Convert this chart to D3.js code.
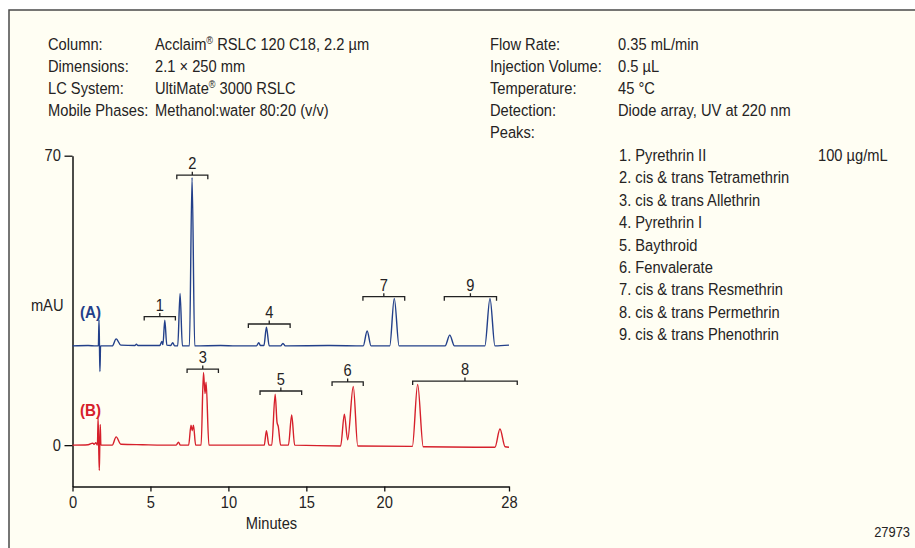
<!DOCTYPE html>
<html>
<head>
<meta charset="utf-8">
<script src="https://cdn.jsdelivr.net/npm/d3@7"></script>
<style>
  html, body { margin: 0; padding: 0; background: #ffffff; }
  svg { display: block; }
  text { font-family: "Liberation Sans", Arial, sans-serif; fill: #252323; }
</style>
</head>
<body>
<svg id="chart" width="915" height="548"></svg>
<script>
// ---------- data ----------
const headerLeftLabels = ["Column:", "Dimensions:", "LC System:", "Mobile Phases:"];
const headerLeftValues = [["Acclaim", "®", " RSLC 120 C18, 2.2 µm"], ["2.1 × 250 mm"], ["UltiMate", "®", " 3000 RSLC"], ["Methanol:water 80:20 (v/v)"]];
const headerRightLabels = ["Flow Rate:", "Injection Volume:", "Temperature:", "Detection:", "Peaks:"];
const headerRightValues = ["0.35 mL/min", "0.5 µL", "45 °C", "Diode array, UV at 220 nm", ""];
const peakNames = ["1. Pyrethrin II", "2. cis & trans Tetramethrin", "3. cis & trans Allethrin", "4. Pyrethrin I",
  "5. Baythroid", "6. Fenvalerate", "7. cis & trans Resmethrin", "8. cis & trans Permethrin", "9. cis & trans Phenothrin"];
const concentration = "100 µg/mL";

const xTicks = [0, 5, 10, 15, 20, 28];
const yTicks = [0, 70];
const offsetA = 24; // vertical offset of trace A (mAU)

// [minutes, mAU] relative to each trace's own baseline
const traceA = [[0,0],[1.0,0.1],[1.5,0],[1.66,0],[1.70,6.3],[1.73,0],[1.76,-6.2],[1.80,0],[2.55,0],[2.8,1.7],[3.1,0.2],
  [4.0,0.1],[4.1,0.4],[4.2,0.1],[5.6,0.1],[5.73,1.1],[5.8,0.3],[5.92,6.2],[6.05,0.2],[6.3,0.1],[6.43,0.8],[6.55,0],
  [6.75,0],[6.9,12.7],[7.05,0],[7.5,0],[7.67,40.7],[7.84,0],[9.5,0.1],[10.5,0],[11.8,0],[11.95,0.8],[12.05,0.1],[12.28,0.1],[12.44,4.5],
  [12.62,0],[13.35,0],[13.5,0.6],[13.65,0],[16.5,0.1],[18.65,0],[18.9,3.6],[19.15,0],[20.35,0],[20.64,11.5],[20.95,0],
  [23.9,0],[24.2,2.6],[24.5,0],[26.45,0],[26.78,11.5],[27.1,0],[28,0.2]];
const traceB = [[0,0],[1.0,0.1],[1.3,0.5],[1.4,0.2],[1.5,0.6],[1.6,0],[1.64,6.5],[1.68,0],[1.72,-6.1],[1.75,0],
  [1.78,5],[1.82,0],[2.55,0],[2.8,2.0],[3.1,0.2],[4.5,0.1],[6.65,0],[6.8,0.7],[6.92,0],[7.45,0],[7.6,4.8],[7.68,3.5],
  [7.76,4.8],[7.9,0],[8.25,0],[8.4,17.6],[8.5,12.5],[8.57,15.2],[8.75,0],[12.3,0],[12.44,3.5],[12.6,0],[12.78,0],
  [13.0,12.3],[13.12,5.5],[13.2,4.5],[13.35,0],[13.85,0],[14.06,7.3],[14.25,0],[17.2,-0.2],[17.44,7.5],[17.65,1.3],
  [18.01,14.2],[18.3,-0.2],[21.8,-0.3],[22.14,14.7],[22.5,-0.4],[27.1,-0.5],[27.42,3.9],[27.75,-0.4],[28,-0.5]];

// peak-group brackets: label, start/end (minutes), level (absolute mAU)
const bracketLabels = ["1", "2", "4", "7", "9", "3", "5", "6", "8"];
const bracketStart  = [4.6, 6.69, 11.28, 18.63, 23.85, 7.35, 12.03, 16.65, 21.82];
const bracketEnd    = [6.6, 8.68, 13.96, 21.31, 27.2, 9.36, 14.7, 18.65, 28.53];
const bracketLevel  = [31.1, 65.3, 29.3, 35.9, 35.9, 18.4, 13.1, 15.3, 15.5];

// ---------- drawing ----------
const svg = d3.select("#chart");
const blue = "#23408a";
const red = "#d6202b";
const SX = 0.89;   // horizontal condensing of the text face
const fs = 16.5;

function addText(g, px, py, parts, anchor = "start", size = fs) {
  const t = g.append("text")
    .attr("transform", `translate(${px},${py}) scale(${SX},1)`)
    .attr("text-anchor", anchor).attr("font-size", size);
  if (typeof parts === "string") { t.text(parts); return t; }
  parts.forEach((p, k) => {
    if (p === "®") t.append("tspan").attr("font-size", size * 0.62).attr("dy", -size * 0.35).text(p);
    else {
      const s = t.append("tspan").text(p);
      if (k > 0 && parts[k - 1] === "®") s.attr("dy", size * 0.35);
    }
  });
  return t;
}

svg.append("rect").attr("x", 0).attr("y", 0).attr("width", 915).attr("height", 548).attr("fill", "#ffffff");
svg.append("rect").attr("x", 9).attr("y", 10).attr("width", 915).attr("height", 548)
  .attr("fill", "#fffef3").attr("stroke", "#4a4a4a").attr("stroke-width", 1.5);

const x = d3.scaleLinear().domain([0, 28]).range([72.5, 509]);
const y = d3.scaleLinear().domain([-10, 70]).range([486.5, 155.7]);

const hdr = svg.append("g");
headerLeftLabels.forEach((t, i) => addText(hdr, 48, 50 + i * 22, t));
headerLeftValues.forEach((t, i) => addText(hdr, 155, 50 + i * 22, t));
headerRightLabels.forEach((t, i) => addText(hdr, 490, 50 + i * 22, t));
headerRightValues.forEach((t, i) => addText(hdr, 618, 50 + i * 22, t));
peakNames.forEach((t, i) => addText(hdr, 619, 161 + i * 22.4, t));
addText(hdr, 818, 161, concentration);

// axes
const xAxis = d3.axisBottom(x).tickValues(xTicks).tickSize(5).tickSizeOuter(0).tickPadding(5);
const gx = svg.append("g").attr("transform", `translate(0,${y(-10)})`).call(xAxis);
const yAxis = d3.axisLeft(y).tickValues(yTicks).tickSize(8).tickSizeOuter(0).tickPadding(5);
const gy = svg.append("g").attr("transform", `translate(${x(0)},0)`).call(yAxis);
[gx, gy].forEach(g => {
  g.selectAll("path.domain").attr("stroke", "#111").attr("stroke-width", 1.5);
  g.selectAll(".tick line").attr("stroke", "#111").attr("stroke-width", 1.3);
  g.selectAll(".tick text").attr("font-size", fs).attr("fill", "#252323")
    .attr("font-family", '"Liberation Sans", Arial, sans-serif')
    .attr("transform", `scale(${SX},1)`);
});
addText(svg, x(0) - 9, y(34) + 6, "mAU", "end");
addText(svg, 271.5, 529, "Minutes", "middle");
addText(svg, 910, 537, "27973", "end", 14.5);

// traces
const lineA = d3.line().x(d => x(d[0])).y(d => y(d[1] + offsetA)).curve(d3.curveMonotoneX);
const lineB = d3.line().x(d => x(d[0])).y(d => y(d[1])).curve(d3.curveMonotoneX);
svg.append("path").datum(traceA).attr("d", lineA).attr("fill", "none").attr("stroke", blue).attr("stroke-width", 1.4);
svg.append("path").datum(traceB).attr("d", lineB).attr("fill", "none").attr("stroke", red).attr("stroke-width", 1.4);

addText(svg, 80, 318, "(A)", "start", 17).attr("font-weight", "bold").style("fill", blue);
addText(svg, 80, 416, "(B)", "start", 17).attr("font-weight", "bold").style("fill", red);

// brackets
const br = svg.append("g");
bracketLabels.forEach((lab, i) => {
  const x0 = x(bracketStart[i]), x1 = x(bracketEnd[i]), yy = y(bracketLevel[i]), xm = (x0 + x1) / 2;
  br.append("path")
    .attr("d", `M${x0},${yy + 4}L${x0},${yy}L${x1},${yy}L${x1},${yy + 4}M${xm},${yy}L${xm},${yy - 3.5}`)
    .attr("fill", "none").attr("stroke", "#222").attr("stroke-width", 1.3);
  addText(br, xm, yy - 6, lab, "middle");
});
</script>
</body>
</html>
